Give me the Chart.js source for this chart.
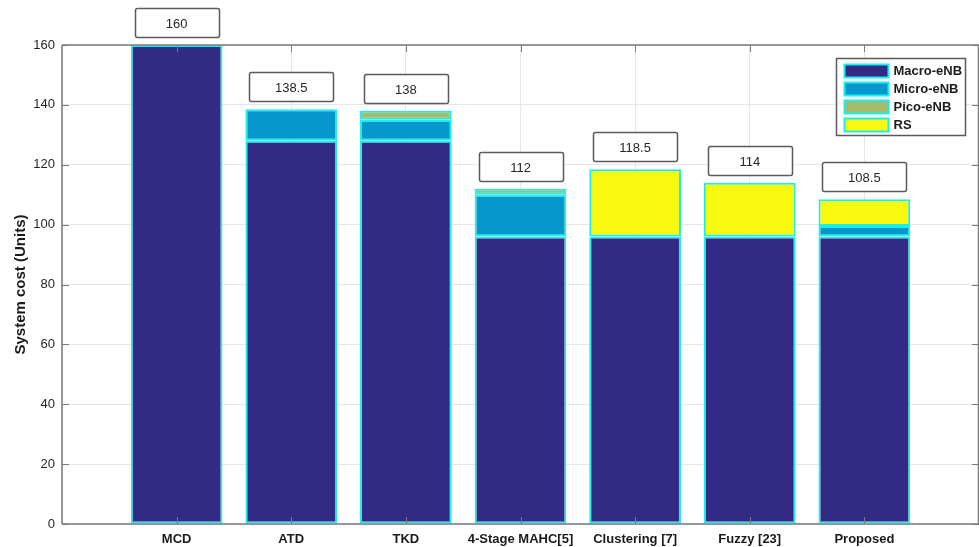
<!DOCTYPE html>
<html>
<head>
<meta charset="utf-8">
<script src="https://cdn.jsdelivr.net/npm/chart.js@4.4.1/dist/chart.umd.min.js"></script>
<style>
  html, body { margin: 0; padding: 0; background: #ffffff; }
  #wrap { width: 979px; height: 547px; }
</style>
</head>
<body>
<div id="wrap"><canvas id="c" width="979" height="547"></canvas></div>
<script>
// Cost breakdown per scheme
const categories = ['MCD', 'ATD', 'TKD', '4-Stage MAHC[5]', 'Clustering [7]', 'Fuzzy [23]', 'Proposed'];
const macroENB = [160, 128, 128, 96, 96, 96, 96];
const microENB = [null, 10.5, 7, 14, null, null, 3.5];
const picoENB  = [null, null, 3, 2, null, null, null];
const relayRS  = [null, null, null, null, 22.5, 18, 9];
const yTicks   = [0, 20, 40, 60, 80, 100, 120, 140, 160];

const seriesNames = ['Macro-eNB', 'Micro-eNB', 'Pico-eNB', 'RS'];
const seriesValues = [macroENB, microENB, picoENB, relayRS];
const seriesColors = ['#332A85', '#0797CD', '#A3BC6C', '#F7F90F'];
const edgeColor = '#18F0F0';

const toPoints = arr => arr.map((v, i) => ({ x: i + 1, y: v }));

const datasets = seriesNames.map((name, k) => ({
  label: name,
  data: toPoints(seriesValues[k]),
  backgroundColor: seriesColors[k],
  borderColor: edgeColor,
  borderWidth: 2,
  borderSkipped: false,
  barPercentage: 0.8,
  categoryPercentage: 1.0
}));

const totals = categories.map((_, i) =>
  seriesValues.reduce((s, arr) => s + (arr[i] || 0), 0));

// Box outline, inward tick marks, value boxes and legend
const decorations = {
  id: 'decorations',
  afterDatasetsDraw(chart) {
    const ctx = chart.ctx;
    const a = chart.chartArea;
    const xs = chart.scales.x, ys = chart.scales.y;
    ctx.save();

    // axes box
    ctx.strokeStyle = '#7a7a7a';
    ctx.lineWidth = 1.5;
    ctx.beginPath();
    ctx.moveTo(a.left, a.top); ctx.lineTo(a.right, a.top);
    ctx.moveTo(a.left, a.bottom); ctx.lineTo(a.right, a.bottom);
    ctx.moveTo(a.left, a.top); ctx.lineTo(a.left, a.bottom);
    ctx.moveTo(a.right - 0.5, a.top); ctx.lineTo(a.right - 0.5, a.bottom);
    ctx.stroke();

    // inward ticks
    ctx.lineWidth = 1;
    ctx.beginPath();
    yTicks.forEach(v => {
      const py = Math.round(ys.getPixelForValue(v)) + 0.5;
      ctx.moveTo(a.left, py); ctx.lineTo(a.left + 7, py);
      ctx.moveTo(a.right, py); ctx.lineTo(a.right - 7, py);
    });
    categories.forEach((_, i) => {
      const px = Math.round(xs.getPixelForValue(i + 1)) + 0.5;
      ctx.moveTo(px, a.bottom); ctx.lineTo(px, a.bottom - 7);
      ctx.moveTo(px, a.top); ctx.lineTo(px, a.top + 7);
    });
    ctx.stroke();

    // value boxes above bars
    ctx.font = '13px "Liberation Sans", Arial, sans-serif';
    ctx.textAlign = 'center';
    ctx.textBaseline = 'middle';
    totals.forEach((t, i) => {
      const cx = xs.getPixelForValue(i + 1);
      const topY = ys.getPixelForValue(t);
      const w = 84, h = 29;
      const bx = Math.round(cx - w / 2) + 0.5;
      const by = Math.round(topY - 8 - h) + 0.5;
      ctx.fillStyle = '#ffffff';
      ctx.strokeStyle = '#5a5a5a';
      ctx.lineWidth = 1.5;
      ctx.beginPath();
      ctx.roundRect(bx, by, w, h, 2);
      ctx.fill();
      ctx.stroke();
      ctx.fillStyle = '#262626';
      ctx.fillText(String(t), cx, by + h / 2 + 1);
    });

    // legend
    const lx = 836.5, ly = 58.5, lw = 129, lh = 77;
    ctx.fillStyle = '#ffffff';
    ctx.strokeStyle = '#5a5a5a';
    ctx.lineWidth = 1.5;
    ctx.fillRect(lx, ly, lw, lh);
    ctx.strokeRect(lx, ly, lw, lh);
    ctx.font = 'bold 13px "Liberation Sans", Arial, sans-serif';
    ctx.textAlign = 'left';
    chart.data.datasets.forEach((ds, k) => {
      const rowY = ly + 12 + k * 18;
      ctx.fillStyle = ds.backgroundColor;
      ctx.fillRect(lx + 8, rowY - 6, 44, 13);
      ctx.strokeStyle = edgeColor;
      ctx.lineWidth = 2;
      ctx.strokeRect(lx + 8, rowY - 6, 44, 13);
      ctx.fillStyle = '#1a1a1a';
      ctx.fillText(ds.label, lx + 57, rowY + 1);
    });

    ctx.restore();
  }
};

new Chart(document.getElementById('c'), {
  type: 'bar',
  data: { datasets },
  options: {
    responsive: false,
    animation: false,
    events: [],
    layout: { padding: { top: 45, right: 0, left: 0, bottom: 0 } },
    plugins: {
      legend: { display: false },
      tooltip: { enabled: false }
    },
    scales: {
      x: {
        type: 'linear',
        stacked: true,
        min: 0,
        max: 8,
        offset: false,
        border: { display: false },
        grid: { color: '#e6e6e6', lineWidth: 1, drawTicks: false, offset: false },
        afterBuildTicks(scale) {
          scale.ticks = [0, 1, 2, 3, 4, 5, 6, 7, 8].map(v => ({ value: v }));
        },
        afterFit(scale) {
          scale.height = 23;
          scale.paddingLeft = 0;
          scale.paddingRight = 0;
        },
        ticks: {
          autoSkip: false,
          maxRotation: 0,
          padding: 8,
          color: '#1a1a1a',
          font: { family: '"Liberation Sans", Arial, sans-serif', size: 13, weight: 'bold' },
          callback: v => (v >= 1 && v <= categories.length ? categories[v - 1] : '')
        }
      },
      y: {
        stacked: true,
        min: 0,
        max: 160,
        border: { display: false },
        grid: { color: '#e6e6e6', lineWidth: 1, drawTicks: false },
        afterBuildTicks(scale) {
          scale.ticks = yTicks.map(v => ({ value: v }));
        },
        afterFit(scale) { scale.width = 62; },
        ticks: {
          padding: 7,
          color: '#262626',
          font: { family: '"Liberation Sans", Arial, sans-serif', size: 13 }
        },
        title: {
          display: true,
          text: 'System cost (Units)',
          color: '#1a1a1a',
          padding: { top: 12, bottom: 0 },
          font: { family: '"Liberation Sans", Arial, sans-serif', size: 15, weight: 'bold' }
        }
      }
    }
  },
  plugins: [decorations]
});
</script>
</body>
</html>
